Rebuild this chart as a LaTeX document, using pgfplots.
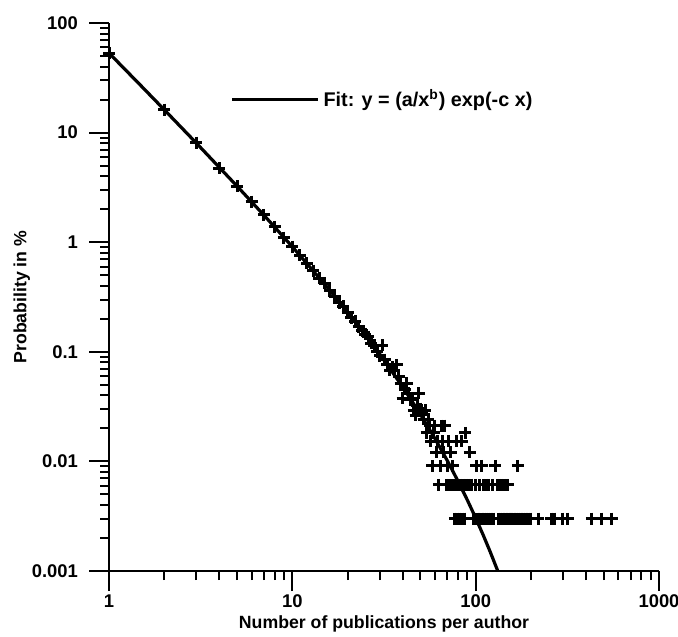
\documentclass[border=0pt]{standalone}
\usepackage{pgfplots}
\pgfplotsset{compat=1.18}
\usepackage{fontspec}
\setmainfont{Liberation Sans}
\begin{document}
\begin{tikzpicture}
\begin{axis}[
  name=ax,
  scale only axis,
  width=275pt, height=274pt,
  xmode=log, ymode=log,
  xmin=1, xmax=1000, ymin=0.001, ymax=100,
  axis lines=left,
  axis line style={-, line width=1.1pt, black},
  tick align=outside,
  major tick length=10pt,
  minor tick length=4.5pt,
  every tick/.style={line width=1pt, black},
  xtick={1,10,100,1000},
  xticklabels={1,10,100,1000},
  minor xtick={2,3,4,5,6,7,8,9,20,30,40,50,60,70,80,90,200,300,400,500,600,700,800,900},
  ytick={0.001,0.01,0.1,1,10,100},
  yticklabels={0.001,0.01,0.1,1,10,100},
  minor ytick={0.002,0.003,0.004,0.005,0.006,0.007,0.008,0.009,0.02,0.03,0.04,0.05,0.06,0.07,0.08,0.09,0.2,0.3,0.4,0.5,0.6,0.7,0.8,0.9,2,3,4,5,6,7,8,9,20,30,40,50,60,70,80,90},
  tick label style={font=\bfseries\fontsize{9.2}{11}\selectfont},
  yticklabel style={xshift=-2pt},
  xticklabel style={yshift=1.5pt},
  label style={font=\bfseries\fontsize{8.85}{10}\selectfont},
  xlabel={Number of publications per author},
  xlabel style={yshift=3pt},
  ylabel={Probability in \%},
  ylabel style={yshift=-6pt},
  legend style={draw=none, fill=none, at={(0.22,0.86)}, anchor=west,
    font=\bfseries\fontsize{9.9}{11}\selectfont, inner xsep=0pt},
  legend cell align=left,
  legend image code/.code={\draw[#1] (0pt,0pt) -- (43pt,0pt);},
]
\addplot[black, line width=1.6pt, no marks] coordinates {
(1,53.2) (1.5,26.6) (2,16.2) (3,8.0) (5,3.24) (7,1.764) (10,0.909) (15,0.4146)
(20,0.2307) (30,0.0951) (40,0.0478) (50,0.02685) (60,0.01614) (70,0.01017)
(80,0.00664) (90,0.004453) (100,0.003048) (110,0.002122) (120,0.001498) (132,0.001)
};
\addlegendentry{Fit: y = (a/x\textsuperscript{b}) exp(-c x)}
\addplot[forget plot, only marks, mark=+, mark size=3pt, black, mark options={line width=1.5pt}] table {
x y
1 53
2 16.2
3 8.1
4 4.75
5 3.25
6 2.35
7 1.78
8 1.38
9 1.10
10 0.91
11 0.76
12 0.64
13 0.55
14 0.47
15 0.42
16 0.36
17 0.32
18 0.28
19 0.26
20 0.23
21 0.205
22 0.19
23 0.17
24 0.155
25 0.145
26 0.137
27 0.12
28 0.115
29 0.10
30 0.092
31 0.115
32 0.085
33 0.076
34 0.068
35 0.072
36 0.068
37 0.076
38 0.06
39 0.0515
40 0.0377
41 0.0455
42 0.0515
43 0.0419
44 0.0364
45 0.0377
46 0.0294
47 0.0265
48 0.0327
49 0.0419
50 0.0303
51 0.0273
52 0.0242
53 0.0294
54 0.0182
55 0.0242
56 0.0212
57 0.0152
58 0.0091
59 0.0182
60 0.0212
61 0.0121
62 0.0152
63 0.0061
64 0.0091
65 0.0212
66 0.0152
67 0.0121
68 0.0212
69 0.0061
70 0.0091
71 0.0152
72 0.0061
73 0.0121
74 0.0061
75 0.0091
76 0.0061
77 0.0030
78 0.0061
79 0.0152
80 0.0030
81 0.0061
82 0.0030
83 0.0061
84 0.0152
85 0.0030
86 0.0061
87 0.0030
88 0.0182
89 0.0061
91 0.0061
93 0.0121
95 0.0061
97 0.0030
99 0.0030
100 0.0061
101 0.0091
102 0.0030
104 0.0030
105 0.0061
107 0.0030
108 0.0091
109 0.0030
110 0.0061
112 0.0030
114 0.0061
115 0.0030
117 0.0030
118 0.0061
120 0.0030
122 0.0030
123 0.0061
125 0.0030
128 0.0091
131 0.0061
134 0.0030
135 0.0061
137 0.0030
139 0.0061
140 0.0030
142 0.0030
143 0.0061
145 0.0030
147 0.0061
148 0.0030
150 0.0061
151 0.0030
153 0.0030
155 0.0030
157 0.0030
160 0.0030
163 0.0030
166 0.0030
170 0.0091
172 0.0030
175 0.0030
178 0.0030
182 0.0030
186 0.0030
190 0.0030
195 0.0030
200 0.0030
220 0.0030
258 0.0030
268 0.0030
298 0.0030
318 0.0030
430 0.0030
487 0.0030
552 0.0030
};
\end{axis}
\pgfresetboundingbox
\path[use as bounding box] ([xshift=-54.5pt,yshift=-32.5pt]ax.south west) rectangle ([xshift=9.5pt,yshift=11.5pt]ax.north east);
\end{tikzpicture}
\end{document}
